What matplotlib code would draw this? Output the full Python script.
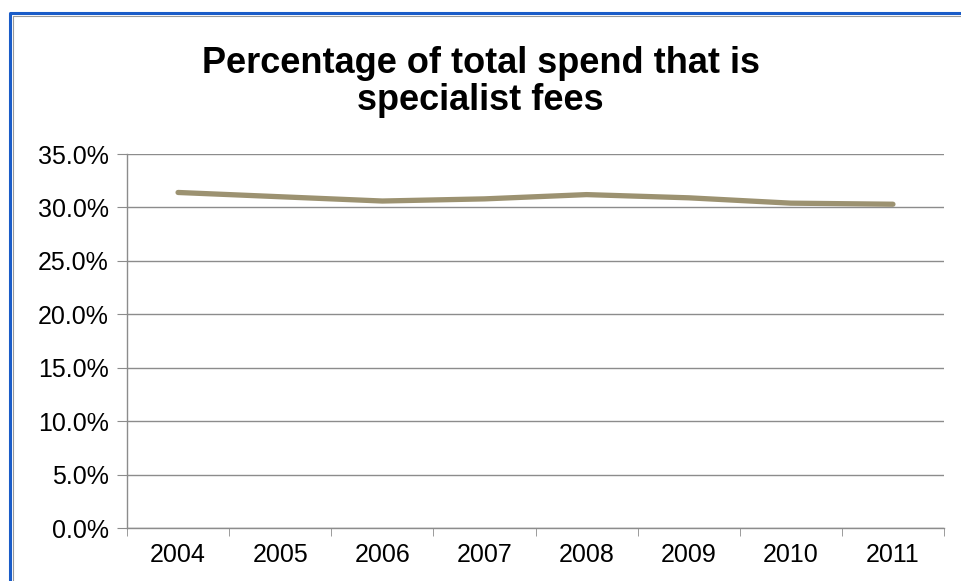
import matplotlib
matplotlib.use('Agg')
import matplotlib.pyplot as plt
from matplotlib.lines import Line2D

# data
years = ['2004', '2005', '2006', '2007', '2008', '2009', '2010', '2011']
pct_specialist = [31.4, 31.0, 30.6, 30.8, 31.2, 30.9, 30.4, 30.3]

y_ticks = [0, 5, 10, 15, 20, 25, 30, 35]

W, H = 961, 581
fig = plt.figure(figsize=(W / 100, H / 100), dpi=100)
plt.rcParams['font.family'] = ['Liberation Sans', 'DejaVu Sans']

ax = fig.add_axes([127 / W, 1 - 528 / H, (944 - 127) / W, (528 - 154) / H])

x = list(range(len(years)))
ax.plot(x, pct_specialist, color='#9c9271', lw=3.8, solid_capstyle='round', solid_joinstyle='round')

ax.set_xlim(-0.5, len(years) - 0.5)
ax.set_ylim(0, 35)
ax.set_yticks(y_ticks)
ax.set_yticklabels(['%.1f%%' % v for v in y_ticks], fontsize=18)
ax.yaxis.grid(True, color='#8c8c8c', lw=1)
ax.set_axisbelow(True)

ax.set_xticks(x)
ax.set_xticklabels(years, fontsize=18)
ax.tick_params(axis='x', length=0, pad=11)
ax.set_xticks([i - 0.5 for i in range(len(years) + 1)], minor=True)
ax.tick_params(axis='x', which='minor', length=6, color='#8c8c8c', direction='out')
ax.tick_params(axis='y', length=7, color='#8c8c8c', direction='out', pad=6)

for s in ['top', 'right']:
    ax.spines[s].set_visible(False)
for s in ['left', 'bottom']:
    ax.spines[s].set_color('#8c8c8c')
    ax.spines[s].set_linewidth(1)

fig.text(0.5, 1 - 82 / H, 'Percentage of total spend that is\nspecialist fees',
         ha='center', va='center', fontsize=26, fontweight='bold', linespacing=1.05)

# outer border (left and top edges)
fig.add_artist(Line2D([10 / W, 10 / W, 1], [0, 1 - 13 / H, 1 - 13 / H],
                      transform=fig.transFigure, color='#1a5cc8', lw=2.2))
fig.add_artist(Line2D([12.5 / W, 12.5 / W, 1], [0, 1 - 15.5 / H, 1 - 15.5 / H],
                      transform=fig.transFigure, color='#9a9a9a', lw=0.8))

fig.savefig('out.png', dpi=100)
